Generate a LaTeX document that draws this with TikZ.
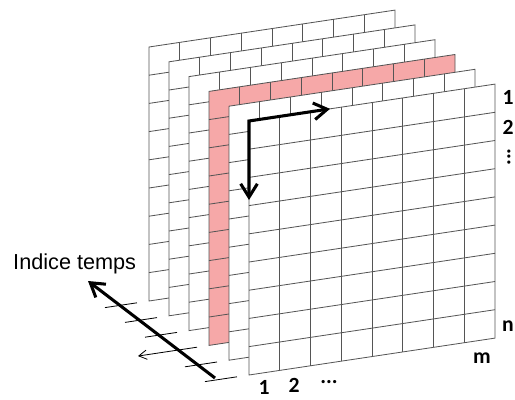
\documentclass[tikz,border=0pt]{standalone}
\usepackage{fontspec}
\setmainfont{Liberation Sans}
\newfontfamily\idxfont{Carlito}
\usetikzlibrary{arrows.meta}
\definecolor{gridgray}{RGB}{85,85,85}
\definecolor{rowpink}{RGB}{246,168,168}

\begin{document}
\begin{tikzpicture}[x=0.03cm, y=-0.03cm,
	grid/.style={draw=gridgray, line width=0.7pt},
	idx/.style={font=\idxfont\bfseries\fontsize{18.5}{18.5}\selectfont, inner sep=0pt},
	bigarrow/.style={line width=2.6pt, -{Straight Barb[length=4mm,width=5mm]}}]
	\useasboundingbox (0,0) rectangle (515,399);
	\foreach \k in {0,...,5} {
		\begin{scope}[shift={(149+20*\k,47+14.8*\k)}, yslant=0.15]
			\fill[white] (0,0) rectangle (246,254);
			\ifnum\k=3
				\fill[rowpink] (0,0) rectangle (246,28.2);
				\fill[rowpink] (0,0) rectangle (30.75,254);
				\draw[line width=0.7pt, -{Straight Barb[length=2.4mm,width=2.8mm]}] (-12,254) -- (-71,254);
			\else
				\draw[line width=0.7pt] (-12,254) -- (-44,254);
			\fi
			\foreach \i in {1,...,7} \draw[grid] (\i*30.75,0) -- (\i*30.75,254);
			\foreach \j in {1,...,8} \draw[grid] (0,\j*28.2) -- (246,\j*28.2);
			\draw[grid] (0,0) rectangle (246,254);
		\end{scope}
	}
	\begin{scope}[shift={(249,121)}, yslant=0.15]
		\coordinate (corner) at (0,0);
		\coordinate (rowend) at (81,0);
		\coordinate (colend) at (0,79);
	\end{scope}
	\draw[bigarrow, {Straight Barb[length=4mm,width=5mm]}-{Straight Barb[length=4mm,width=5mm]}] (rowend) -- (corner) -- (colend);
	\coordinate (tstart) at (215,378);
	\coordinate (tend) at (88,281);
	\draw[bigarrow] (tstart) -- (tend);
	\node[idx] (r1) at (508,97) {1};
	\node[idx] (r2) at (508,127) {2};
	\node[idx, rotate=90] (rdots) at (509,157) {...};
	\node[idx] (rn) at (508,326) {n};
	\node[idx] (cm) at (482,358) {m};
	\node[idx] (c1) at (264,387.5) {1};
	\node[idx] (c2) at (294,385) {2};
	\node[idx, anchor=base] (cdots) at (329,383) {...};
	\node[font=\fontsize{18.5}{18.5}\selectfont, anchor=base west, inner sep=0pt] (time) at (13,269) {Indice temps};
\end{tikzpicture}
\end{document}
